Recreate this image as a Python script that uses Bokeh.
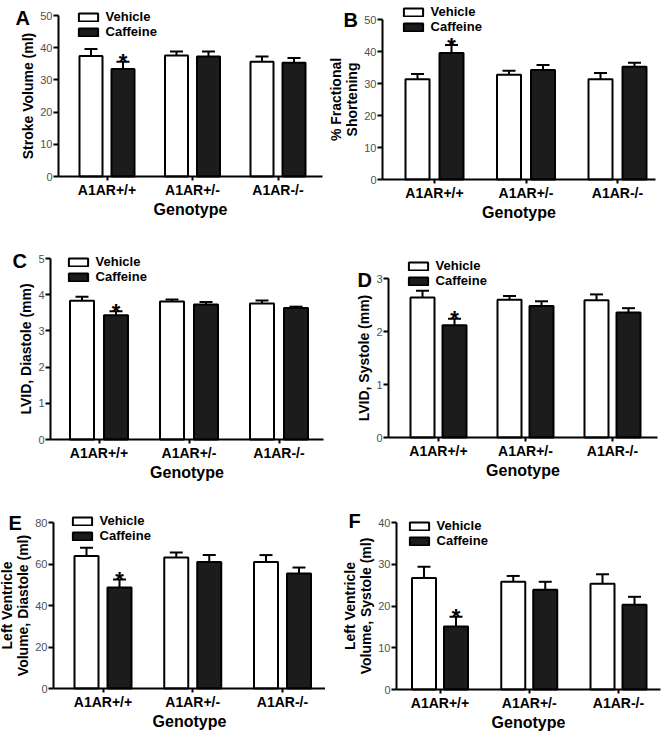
import numpy as np
from bokeh.plotting import figure
from bokeh.layouts import column, row
from bokeh.models import (Range1d, FixedTicker, Legend, LegendItem, Whisker,
                          TeeHead, ColumnDataSource, Label)
from bokeh.core.properties import value
from bokeh.embed import file_html
from bokeh.resources import INLINE

# ---------------- data ----------------
genotypes = ["A1AR+/+", "A1AR+/-", "A1AR-/-"]
series = ["Vehicle", "Caffeine"]
x_title = "Genotype"

a_title = "Stroke Volume (ml)"
a_ticks = [0, 10, 20, 30, 40, 50]
a_vehicle = [37.4, 37.6, 35.6]
a_vehicle_sem = [2.2, 1.2, 1.7]
a_caffeine = [33.4, 37.3, 35.3]
a_caffeine_sem = [2.2, 1.5, 1.5]
a_sig = [True, False, False]

b_title = "% Fractional\nShortening"
b_ticks = [0, 10, 20, 30, 40, 50]
b_vehicle = [31.3, 32.7, 31.3]
b_vehicle_sem = [1.7, 1.3, 2.0]
b_caffeine = [39.5, 34.2, 35.2]
b_caffeine_sem = [2.5, 1.6, 1.3]
b_sig = [True, False, False]

c_title = "LVID, Diastole (mm)"
c_ticks = [0, 1, 2, 3, 4, 5]
c_vehicle = [3.83, 3.81, 3.76]
c_vehicle_sem = [0.11, 0.06, 0.08]
c_caffeine = [3.43, 3.73, 3.63]
c_caffeine_sem = [0.11, 0.07, 0.04]
c_sig = [True, False, False]

d_title = "LVID, Systole (mm)"
d_ticks = [0, 1, 2, 3]
d_vehicle = [2.64, 2.60, 2.59]
d_vehicle_sem = [0.13, 0.07, 0.11]
d_caffeine = [2.12, 2.48, 2.36]
d_caffeine_sem = [0.12, 0.09, 0.08]
d_sig = [True, False, False]

e_title = "Left Ventricle\nVolume, Diastole (ml)"
e_ticks = [0, 20, 40, 60, 80]
e_vehicle = [63.9, 63.1, 61.0]
e_vehicle_sem = [3.9, 2.4, 3.3]
e_caffeine = [48.7, 61.0, 55.4]
e_caffeine_sem = [3.8, 3.3, 2.9]
e_sig = [True, False, False]

f_title = "Left Ventricle\nVolume, Systole (ml)"
f_ticks = [0, 10, 20, 30, 40]
f_vehicle = [26.7, 25.8, 25.3]
f_vehicle_sem = [2.7, 1.4, 2.3]
f_caffeine = [15.1, 23.9, 20.3]
f_caffeine_sem = [2.3, 1.9, 1.9]
f_sig = [True, False, False]

# ---------------- layout (page pixels) ----------------
FONT = "Liberation Sans"
LW, RW = 325, 345
GEOM = {
    "A": dict(fx=0, fy=0, W=LW, H=240, ax=58, xe=322, yt=15, y0=176, c0=106.5, c2=277.5,
              bw=23, off=16, lx=15, lb=17, gx=78, gy=10),
    "B": dict(fx=LW, fy=0, W=RW, H=240, ax=382, xe=655, yt=19, y0=179, c0=434, c2=617,
              bw=24, off=17, lx=343, lb=19, gx=403, gy=5),
    "C": dict(fx=0, fy=240, W=LW, H=250, ax=50, xe=323, yt=258, y0=439, c0=98.5, c2=278.5,
              bw=24, off=17, lx=12, lb=260, gx=68, gy=255),
    "D": dict(fx=LW, fy=240, W=RW, H=250, ax=388, xe=657, yt=278, y0=437, c0=438, c2=612,
              bw=24, off=16, lx=357, lb=279, gx=408, gy=259),
    "E": dict(fx=0, fy=490, W=LW, H=242, ax=53, xe=325, yt=522, y0=688, c0=102.5, c2=282,
              bw=24, off=16.5, lx=8, lb=522, gx=72, gy=514),
    "F": dict(fx=LW, fy=490, W=RW, H=242, ax=396, xe=660, yt=522, y0=689, c0=439.5, c2=618,
              bw=24, off=16, lx=348, lb=520, gx=409, gy=519),
}


def make_panel(letter, ytitle, yticks, veh, veh_sem, caf, caf_sem, sig):
    g = GEOM[letter]
    fx, fy, W, H = g["fx"], g["fy"], g["W"], g["H"]
    s = (g["c2"] - g["c0"]) / 2.0           # px per group
    ymax = yticks[-1]
    k = ymax / (g["y0"] - g["yt"])          # data units per px
    x_of = lambda px: (px - g["c0"]) / s
    y_of = lambda py: (g["y0"] - py) * k

    p = figure(width=W, height=H, output_backend="svg", toolbar_location=None,
               x_range=Range1d(x_of(fx), x_of(fx + W)),
               y_range=Range1d(y_of(fy + H), y_of(fy)),
               min_border_left=0, min_border_right=0,
               min_border_top=0, min_border_bottom=0)
    p.outline_line_color = None
    p.xgrid.visible = False
    p.ygrid.visible = False
    p.background_fill_color = "white"
    p.border_fill_color = "white"

    xs = np.arange(len(genotypes), dtype=float)
    off = g["off"] / s
    bw = g["bw"] / s
    veh = np.array(veh, dtype=float)
    caf = np.array(caf, dtype=float)
    src_v = ColumnDataSource(dict(x=xs - off, top=veh, upper=veh + np.array(veh_sem)))
    src_c = ColumnDataSource(dict(x=xs + off, top=caf, upper=caf + np.array(caf_sem)))

    for src in (src_v, src_c):
        w = Whisker(source=src, base="x", lower="top", upper="upper", dimension="height",
                    line_color="black", line_width=2, lower_head=None,
                    upper_head=TeeHead(size=13, line_width=2, line_color="black"))
        p.add_layout(w)

    rv = p.vbar(x="x", top="top", bottom=0, width=bw, source=src_v, fill_color="white",
                line_color="black", line_width=2)
    rc = p.vbar(x="x", top="top", bottom=0, width=bw, source=src_c, fill_color="#1c1c1c",
                line_color="black", line_width=2)

    sig_mask = np.array(sig)
    star_src = ColumnDataSource(dict(x=(xs + off)[sig_mask],
                                     y=(caf + np.array(caf_sem))[sig_mask],
                                     t=["*"] * int(sig_mask.sum())))
    p.text(x="x", y="y", text="t", source=star_src, text_font=value(FONT),
           text_font_size="22px", text_font_style="bold", text_align="center",
           text_baseline="alphabetic", y_offset=0, text_color="black")

    # axes, pinned at the data positions of the reference axis lines
    yax, xax = p.yaxis[0], p.xaxis[0]
    yax.fixed_location = x_of(g["ax"])
    yax.bounds = (0, ymax)
    xax.fixed_location = 0
    xax.bounds = (x_of(g["ax"]), x_of(g["xe"]))
    yax.ticker = FixedTicker(ticks=yticks)
    yax.axis_label = ytitle
    xax.ticker = FixedTicker(ticks=list(xs))
    xax.major_label_overrides = {float(i): gname for i, gname in enumerate(genotypes)}
    xax.axis_label = x_title
    for ax in (xax, yax):
        ax.axis_line_width = 2
        ax.axis_line_color = "black"
        ax.major_tick_line_width = 2
        ax.major_tick_line_color = "black"
        ax.major_tick_in = 0
        ax.minor_tick_out = 0
        ax.minor_tick_in = 0
        ax.axis_label_text_font = FONT
        ax.axis_label_text_font_style = "bold"
        ax.axis_label_text_color = "black"
        ax.major_label_text_font = FONT
    yax.major_tick_out = 5
    yax.major_label_standoff = 1
    yax.axis_label_standoff = 1
    yax.major_label_text_font_size = "11px"
    yax.major_label_text_color = "#505050"
    yax.axis_label_text_font_size = "14px"
    yax.axis_label_text_line_height = 1.0
    xax.major_tick_out = 4
    xax.major_label_standoff = 1
    xax.axis_label_standoff = 0
    xax.major_label_text_font_size = "14px"
    xax.major_label_text_font_style = "bold"
    xax.major_label_text_color = "black"
    xax.axis_label_text_font_size = "16px"

    # legend
    item_h = 15
    gw, gh = 24, 10
    lx = (g["gx"] - 0.1 * gw) - fx
    ly = (fy + H) - (g["gy"] - 1) - 2 * item_h
    legend = Legend(items=[LegendItem(label=series[0], renderers=[rv]),
                           LegendItem(label=series[1], renderers=[rc])],
                    location=(lx, ly), padding=0, margin=0, spacing=0,
                    glyph_width=gw, glyph_height=gh, label_height=item_h,
                    label_standoff=6, border_line_color=None,
                    background_fill_alpha=0, label_text_font=FONT,
                    label_text_font_size="13px", label_text_font_style="bold",
                    label_text_color="black")
    p.add_layout(legend)

    # panel letter
    lab = Label(x=g["lx"] - fx, y=(fy + H) - g["lb"], x_units="screen", y_units="screen",
                text=letter, text_font=FONT, text_font_size="20px", text_font_style="bold",
                text_align="left", text_baseline="alphabetic", text_color="black")
    p.add_layout(lab)
    return p


pA = make_panel("A", a_title, a_ticks, a_vehicle, a_vehicle_sem, a_caffeine, a_caffeine_sem, a_sig)
pB = make_panel("B", b_title, b_ticks, b_vehicle, b_vehicle_sem, b_caffeine, b_caffeine_sem, b_sig)
pC = make_panel("C", c_title, c_ticks, c_vehicle, c_vehicle_sem, c_caffeine, c_caffeine_sem, c_sig)
pD = make_panel("D", d_title, d_ticks, d_vehicle, d_vehicle_sem, d_caffeine, d_caffeine_sem, d_sig)
pE = make_panel("E", e_title, e_ticks, e_vehicle, e_vehicle_sem, e_caffeine, e_caffeine_sem, e_sig)
pF = make_panel("F", f_title, f_ticks, f_vehicle, f_vehicle_sem, f_caffeine, f_caffeine_sem, f_sig)

layout = column(row(pA, pB), row(pC, pD), row(pE, pF))
open("out.html", "w").write(file_html(layout, INLINE))
